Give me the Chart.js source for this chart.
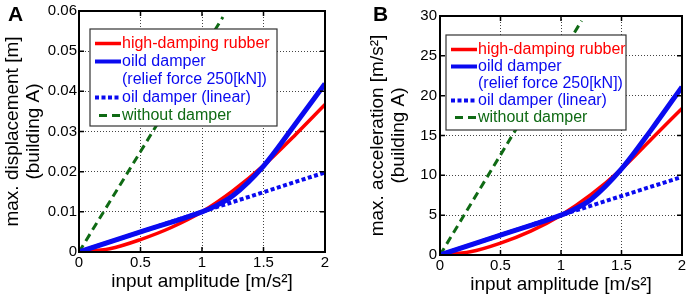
<!DOCTYPE html>
<html>
<head>
<meta charset="utf-8">
<script src="https://cdn.jsdelivr.net/npm/chart.js@4/dist/chart.umd.min.js"></script>
<style>
  html, body { margin: 0; padding: 0; background: #fff; overflow: hidden; width: 686px; height: 298px; }
  .panel { position: absolute; top: 0; }
  .tag { position: absolute; font: bold 21px "Liberation Sans", Arial, sans-serif; color: #000; }
</style>
</head>
<body>
<div class="panel" style="left:0"><canvas id="chartA" width="343" height="298"></canvas></div>
<div class="panel" style="left:343px"><canvas id="chartB" width="360" height="298"></canvas></div>
<div class="tag" style="left:8px;top:2px">A</div>
<div class="tag" style="left:373px;top:2px">B</div>
<script>
// 값은 그림에서 읽은 추정치
const xTicks = [0, 0.5, 1, 1.5, 2];
const yTicksA = [0, 0.01, 0.02, 0.03, 0.04, 0.05, 0.06];
const yTicksB = [0, 5, 10, 15, 20, 25, 30];

const seriesNames = [
  "high-damping rubber",
  ["oild damper", "(relief force 250[kN])"],
  "oil damper (linear)",
  "without damper",
];

const xRubber = [0, 0.25, 0.5, 0.75, 1, 1.25, 1.5, 1.75, 2];
const rubberA = [0, 0.0008, 0.0031, 0.0061, 0.01, 0.0152, 0.0215, 0.0289, 0.0367];
const rubberB = [0, 0.4, 1.5, 3.0, 5.0, 7.6, 10.8, 14.6, 18.4];

const xOil = [0, 0.5, 1, 1.1, 1.25, 1.5, 1.75, 2];
const oilA = [0, 0.005, 0.01, 0.0113, 0.014, 0.0214, 0.0315, 0.0419];
const oilB = [0, 2.5, 5.0, 5.65, 7.0, 10.8, 15.8, 21.1];

const xLinear = [0, 1, 2];
const linearA = [0, 0.01, 0.0198];
const linearB = [0, 5.0, 9.8];

const xNone = [0, 1.17];
const noneA = [0, 0.0585];
const noneB = [0, 29.4];

const FONT = "'Liberation Sans', Arial, sans-serif";
const RED = "#ff0000";
const BLUE = "#0a0af0";
const GREEN = "#0f6a14";

function pts(xs, ys) {
  return xs.map((x, i) => ({ x, y: ys[i] }));
}

function buildDatasets(rubber, oil, linear, none) {
  return [
    { label: seriesNames[0], data: pts(xRubber, rubber), borderColor: RED, borderWidth: 3.5, borderDash: [], order: 2, cubicInterpolationMode: "monotone" },
    { label: seriesNames[1], data: pts(xOil, oil), borderColor: BLUE, borderWidth: 5, borderDash: [], order: 1, cubicInterpolationMode: "monotone" },
    { label: seriesNames[2], data: pts(xLinear, linear), borderColor: BLUE, borderWidth: 4, borderDash: [4, 2.5], order: 3 },
    { label: seriesNames[3], data: pts(xNone, none), borderColor: GREEN, borderWidth: 3, borderDash: [8, 5], order: 4 },
  ];
}

// 테두리, 안쪽 눈금, 범례
const framePlugin = {
  id: "frame",
  afterDraw(chart, args, opts) {
    const { ctx, chartArea: a, scales } = chart;
    ctx.save();
    ctx.strokeStyle = "#000";
    ctx.lineWidth = 1.5;
    ctx.beginPath();
    scales.x.ticks.forEach((t) => {
      const px = scales.x.getPixelForValue(t.value);
      ctx.moveTo(px, a.bottom); ctx.lineTo(px, a.bottom - 5);
      ctx.moveTo(px, a.top); ctx.lineTo(px, a.top + 5);
    });
    scales.y.ticks.forEach((t) => {
      const py = scales.y.getPixelForValue(t.value);
      ctx.moveTo(a.left, py); ctx.lineTo(a.left + 5, py);
      ctx.moveTo(a.right, py); ctx.lineTo(a.right - 5, py);
    });
    ctx.stroke();
    ctx.lineWidth = 2;
    ctx.strokeRect(a.left, a.top, a.width, a.height);

    // legend box
    const [l, t, r, b] = opts.box;
    ctx.fillStyle = "#fff";
    ctx.fillRect(l, t, r - l, b - t);
    ctx.strokeStyle = "#333";
    ctx.lineWidth = 1.2;
    ctx.strokeRect(l, t, r - l, b - t);

    ctx.font = "16px " + FONT;
    ctx.textBaseline = "middle";
    ctx.textAlign = "left";
    let row = 0;
    chart.data.datasets.forEach((ds) => {
      const y = opts.top + row * opts.step;
      ctx.save();
      ctx.strokeStyle = ds.borderColor;
      ctx.lineWidth = Math.min(ds.borderWidth, 4);
      ctx.setLineDash(ds.borderDash);
      if (ds.borderDash.length && ds.borderDash[0] > 5) ctx.lineDashOffset = -4;
      ctx.beginPath();
      ctx.moveTo(opts.x0, y);
      ctx.lineTo(opts.x1, y);
      ctx.stroke();
      ctx.restore();
      ctx.fillStyle = ds.borderColor;
      const lines = Array.isArray(ds.label) ? ds.label : [ds.label];
      lines.forEach((txt) => {
        ctx.fillText(txt, opts.tx, opts.top + row * opts.step);
        row++;
      });
    });
    ctx.restore();
  },
};

function makeChart(id, cfg) {
  const canvas = document.getElementById(id);
  return new Chart(canvas.getContext("2d"), {
    type: "line",
    data: { datasets: cfg.datasets },
    options: {
      responsive: false,
      animation: false,
      devicePixelRatio: 1,
      events: [],
      layout: { padding: cfg.padding },
      elements: { point: { radius: 0 }, line: { borderCapStyle: "butt", fill: false } },
      scales: {
        x: {
          type: "linear",
          min: 0,
          max: 2,
          afterBuildTicks: (s) => { s.ticks = xTicks.map((v) => ({ value: v })); },
          afterFit: (s) => { s.height = cfg.axisH; },
          ticks: { font: { size: 15, family: FONT }, color: "#000", padding: 2, maxRotation: 0, callback: (v) => String(v) },
          grid: { color: "#444", lineWidth: 1, drawTicks: false },
          border: { display: false, dash: [1, 2] },
          title: {
            display: true,
            text: "input amplitude [m/s²]",
            color: "#000",
            font: { size: 19, family: FONT, lineHeight: 1.08 },
            padding: { top: 0, bottom: cfg.xTitlePad },
          },
        },
        y: {
          type: "linear",
          min: 0,
          max: cfg.yMax,
          afterBuildTicks: (s) => { s.ticks = cfg.yTicks.map((v) => ({ value: v })); },
          afterFit: (s) => { s.width = cfg.axisW; },
          ticks: { font: { size: 15, family: FONT }, color: "#000", padding: cfg.yTickPad, callback: (v) => String(v) },
          grid: { color: "#444", lineWidth: 1, drawTicks: false },
          border: { display: false, dash: [1, 2] },
          title: {
            display: true,
            text: cfg.yTitle,
            color: "#000",
            font: { size: 19, family: FONT, lineHeight: 1.08 },
            padding: { top: cfg.yTitlePad, bottom: 0 },
          },
        },
      },
      plugins: {
        legend: { display: false },
        tooltip: { enabled: false },
        frame: cfg.legend,
      },
    },
    plugins: [framePlugin],
  });
}

makeChart("chartA", {
  datasets: buildDatasets(rubberA, oilA, linearA, noneA),
  yTicks: yTicksA,
  yMax: 0.06,
  yTitle: ["max. displacement [m]", "(building A)"],
  axisW: 79,
  axisH: 46,
  padding: { top: 10, right: 18, bottom: 0, left: 0 },
  yTitlePad: 3,
  xTitlePad: 6,
  yTickPad: 2,
  legend: { box: [90, 29, 277, 126], top: 43.5, step: 18, x0: 95, x1: 121, tx: 122 },
});

makeChart("chartB", {
  datasets: buildDatasets(rubberB, oilB, linearB, noneB),
  yTicks: yTicksB,
  yMax: 30,
  yTitle: ["max. acceleration [m/s²]", "(building A)"],
  axisW: 97,
  axisH: 43,
  padding: { top: 16, right: 21, bottom: 0, left: 0 },
  yTitlePad: 25,
  xTitlePad: 3,
  yTickPad: 3,
  legend: { box: [103, 35, 283, 130], top: 49.5, step: 17, x0: 108, x1: 134, tx: 135 },
});
</script>
</body>
</html>
